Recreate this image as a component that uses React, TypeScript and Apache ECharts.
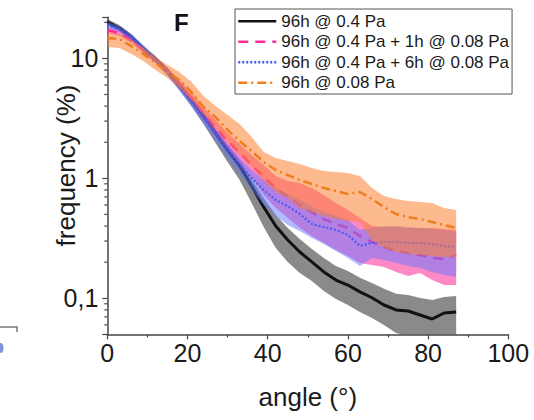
import React, { useEffect, useRef } from "react";
import * as echarts from "echarts";

const angles = [0, 3, 6, 9, 12, 15, 18, 21, 24, 27, 30, 33, 36, 39, 42, 45, 48, 51, 54, 57, 60, 63, 66, 69, 72, 75, 78, 81, 84, 87];

const blackMean = [20.1, 17.9, 15.0, 12.0, 9.87, 7.84, 5.99, 4.49, 3.31, 2.39, 1.72, 1.27, 0.862, 0.576, 0.4, 0.306, 0.243, 0.201, 0.166, 0.142, 0.129, 0.113, 0.101, 0.0879, 0.0799, 0.0784, 0.0726, 0.0672, 0.0754, 0.0769];
const blackHi = [21.25, 18.95, 15.94, 12.66, 10.45, 8.3, 6.35, 4.76, 3.57, 2.58, 1.895, 1.421, 0.987, 0.685, 0.494, 0.386, 0.312, 0.258, 0.217, 0.186, 0.169, 0.148, 0.134, 0.12, 0.109, 0.1065, 0.1006, 0.0968, 0.1025, 0.1045];
const blackLo = [18.59, 16.88, 14.21, 11.29, 9.31, 7.26, 5.44, 4.0, 2.835, 1.969, 1.367, 0.968, 0.622, 0.393, 0.263, 0.201, 0.1625, 0.1394, 0.1151, 0.0987, 0.0879, 0.0769, 0.0685, 0.0599, 0.0513, 0.0485, 0.0449, 0.0416, 0.0466, 0.0475];

const pinkMean = [17.21, 16.25, 14.21, 11.73, 9.68, 7.84, 6.11, 4.67, 3.5, 2.68, 2.046, 1.625, 1.291, 1.025, 0.83, 0.699, 0.599, 0.5235, 0.458, 0.416, 0.386, 0.331, 0.2945, 0.2675, 0.248, 0.2386, 0.2296, 0.2168, 0.2126, 0.2296];
const pinkHi = [18.24, 17.21, 15.05, 12.42, 10.25, 8.3, 6.6, 5.14, 3.93, 3.06, 2.39, 1.932, 1.564, 1.291, 1.045, 0.95, 0.913, 0.83, 0.726, 0.622, 0.544, 0.4666, 0.4, 0.393, 0.393, 0.386, 0.386, 0.386, 0.378, 0.371];
const pinkLo = [16.25, 15.34, 13.41, 11.07, 9.14, 7.26, 5.657, 4.24, 3.12, 2.34, 1.754, 1.341, 1.006, 0.726, 0.565, 0.4666, 0.386, 0.331, 0.289, 0.253, 0.2252, 0.1969, 0.1895, 0.1824, 0.1656, 0.1534, 0.1625, 0.1421, 0.1291, 0.1291];

const blueMean = [18.95, 17.54, 15.05, 12.19, 9.68, 7.69, 5.77, 4.32, 3.18, 2.34, 1.72, 1.29, 1.006, 0.799, 0.659, 0.588, 0.504, 0.416, 0.393, 0.371, 0.337, 0.273, 0.289, 0.2945, 0.2945, 0.289, 0.289, 0.283, 0.273, 0.2675];
const blueHi = [20.06, 18.59, 15.94, 12.91, 10.25, 8.15, 6.23, 4.67, 3.5, 2.58, 1.932, 1.477, 1.173, 0.968, 0.83, 0.74, 0.659, 0.576, 0.5235, 0.4846, 0.449, 0.371, 0.386, 0.4, 0.4, 0.393, 0.386, 0.378, 0.371, 0.357];
const blueLo = [17.88, 16.56, 14.21, 11.51, 9.14, 7.12, 5.34, 3.93, 2.835, 2.046, 1.477, 1.086, 0.799, 0.599, 0.4846, 0.408, 0.364, 0.318, 0.283, 0.248, 0.2168, 0.1859, 0.2168, 0.2086, 0.1969, 0.1859, 0.1788, 0.1656, 0.1564, 0.1505];

const orangeMean = [14.77, 14.49, 12.66, 10.86, 9.14, 7.69, 6.6, 5.24, 3.93, 3.24, 2.53, 2.046, 1.688, 1.367, 1.173, 1.065, 0.968, 0.896, 0.83, 0.784, 0.74, 0.769, 0.672, 0.576, 0.504, 0.475, 0.458, 0.432, 0.408, 0.386];
const orangeHi = [16.25, 15.94, 14.21, 12.19, 10.25, 8.8, 7.69, 6.35, 4.85, 4.0, 3.37, 2.835, 2.21, 1.656, 1.477, 1.394, 1.316, 1.219, 1.151, 1.129, 1.107, 1.045, 0.83, 0.712, 0.672, 0.646, 0.634, 0.622, 0.565, 0.544];
const orangeLo = [12.42, 12.19, 10.86, 9.49, 7.99, 6.855, 5.657, 4.494, 3.435, 2.626, 2.007, 1.564, 1.242, 0.968, 0.769, 0.685, 0.565, 0.5235, 0.4846, 0.458, 0.4405, 0.432, 0.306, 0.263, 0.243, 0.234, 0.2296, 0.2252, 0.221, 0.221];

const seriesNames = [
  "96h @ 0.4 Pa",
  "96h @ 0.4 Pa + 1h @ 0.08 Pa",
  "96h @ 0.4 Pa + 6h @ 0.08 Pa",
  "96h @ 0.08 Pa",
];

const yMinorTicks = [0.06, 0.07, 0.08, 0.09, 0.2, 0.3, 0.4, 0.5, 0.6, 0.7, 0.8, 0.9, 2, 3, 4, 5, 6, 7, 8, 9, 20];

const FONT = "'Liberation Sans', Arial, Helvetica, sans-serif";

function bandSeries(key: string, lo: number[], hi: number[], color: string, z: number) {
  return {
    type: "custom",
    name: key + "-band",
    silent: true,
    z,
    data: angles.map((a, i) => [a, lo[i], hi[i]]),
    encode: { x: 0, y: [1, 2] },
    renderItem: (params: any, api: any) => {
      if (params.dataIndex !== 0) return null;
      const upper = angles.map((a, i) => api.coord([a, hi[i]]));
      const lower = angles.map((a, i) => api.coord([a, lo[i]])).reverse();
      const cs = params.coordSys;
      return {
        type: "polygon",
        shape: { points: upper.concat(lower) },
        style: { fill: color, stroke: "none" },
        clipPath: { type: "rect", shape: { x: cs.x, y: cs.y, width: cs.width, height: cs.height } },
      };
    },
  };
}

function meanSeries(name: string, values: number[], color: string, width: number, type: any, z: number) {
  return {
    type: "line",
    name,
    data: angles.map((a, i) => [a, values[i]]),
    symbol: "none",
    lineStyle: { color, width, type },
    itemStyle: { color },
    silent: true,
    z,
  };
}

export default function App() {
  const ref = useRef<HTMLDivElement>(null);
  useEffect(() => {
    if (!ref.current) return;
    const chart = echarts.init(ref.current, undefined, { renderer: "svg" });
    const option: any = {
      animation: false,
      backgroundColor: "#ffffff",
      grid: { left: 107.3, right: 25.7, top: 17.3, bottom: 85.6, containLabel: false },
      xAxis: {
        type: "value",
        min: 0,
        max: 100,
        interval: 20,
        axisLine: { lineStyle: { color: "#444", width: 1.5 } },
        axisTick: { inside: false, length: 5, lineStyle: { color: "#444", width: 1.2 } },
        minorTick: { show: true, splitNumber: 2, length: 3, lineStyle: { color: "#444", width: 1.2 } },
        splitLine: { show: false },
        axisLabel: { fontSize: 25, color: "#1a1a1a", fontFamily: FONT, margin: 6 },
      },
      yAxis: {
        type: "log",
        logBase: 10,
        min: 0.05,
        max: 22,
        axisLine: { show: true, lineStyle: { color: "#444", width: 1.5 } },
        axisTick: { inside: false, length: 5, lineStyle: { color: "#444", width: 1.2 } },
        splitLine: { show: false },
        axisLabel: {
          fontSize: 25,
          color: "#1a1a1a",
          fontFamily: FONT,
          margin: 9,
          formatter: (v: number) => {
            const l = Math.log10(v);
            const r = Math.round(l);
            if (Math.abs(l - r) > 1e-6) return "";
            const s = r >= 0 ? String(Math.pow(10, r)) : Math.pow(10, r).toFixed(-r);
            return s.replace(".", ",");
          },
        },
      },
      legend: {
        data: seriesNames,
        orient: "vertical",
        left: 235,
        top: 9,
        z: 30,
        itemWidth: 38,
        itemHeight: 14,
        itemGap: 0,
        padding: [2, 3, 1, 2],
        backgroundColor: "#ffffff",
        borderColor: "#555",
        borderWidth: 1,
        selectedMode: false,
        itemStyle: { opacity: 0 },
        lineStyle: { width: 2.5 },
        textStyle: { fontSize: 17, color: "#1a1a1a", fontFamily: FONT, lineHeight: 20.5 },
      },
      graphic: [
        {
          type: "text",
          left: 174,
          top: 10,
          z: 30,
          style: { text: "F", fontSize: 24, fontWeight: "bold", fontFamily: FONT, fill: "#111" },
        },
        {
          type: "text",
          x: 66,
          y: 165.5,
          rotation: Math.PI / 2,
          style: {
            text: "frequency (%)",
            fontSize: 26,
            fontFamily: FONT,
            fill: "#1a1a1a",
            textAlign: "center",
            textVerticalAlign: "middle",
          },
        },
        {
          type: "text",
          x: 307.8,
          y: 397,
          style: {
            text: "angle (°)",
            fontSize: 26,
            fontFamily: FONT,
            fill: "#1a1a1a",
            textAlign: "center",
            textVerticalAlign: "middle",
          },
        },
        {
          type: "polyline",
          shape: { points: [[0, 327], [17, 327], [17, 332]] },
          style: { stroke: "#777", lineWidth: 1.5, fill: "none" },
        },
        {
          type: "ellipse",
          shape: { cx: 1, cy: 348, rx: 2.5, ry: 5 },
          style: { fill: "#7f8fd8" },
        },
      ],
      series: [
        bandSeries("black", blackLo, blackHi, "rgba(60,60,60,0.6)", 2),
        meanSeries(seriesNames[0], blackMean, "#111111", 3, "solid", 3),
        bandSeries("pink", pinkLo, pinkHi, "rgba(255,40,150,0.55)", 4),
        meanSeries(seriesNames[1], pinkMean, "#ff2a9a", 2.5, [10, 7], 5),
        bandSeries("blue", blueLo, blueHi, "rgba(100,120,255,0.5)", 6),
        meanSeries(seriesNames[2], blueMean, "#4455ff", 2, [2, 2], 7),
        bandSeries("orange", orangeLo, orangeHi, "rgba(250,130,50,0.55)", 8),
        meanSeries(seriesNames[3], orangeMean, "#f07d1e", 2.5, [9, 4, 2, 4], 9),
        {
          type: "custom",
          name: "minor-ticks",
          silent: true,
          z: 10,
          data: yMinorTicks.map((v) => [0, v]),
          renderItem: (params: any, api: any) => {
            const p = api.coord([0, api.value(1)]);
            return {
              type: "line",
              shape: { x1: p[0] - 3, y1: p[1], x2: p[0], y2: p[1] },
              style: { stroke: "#444", lineWidth: 1.2 },
            };
          },
        },
      ],
    };
    chart.setOption(option);
    return () => chart.dispose();
  }, []);
  return (
    <div
      ref={ref}
      style={{ position: "fixed", left: 0, top: 0, width: 534, height: 420 }}
    />
  );
}
